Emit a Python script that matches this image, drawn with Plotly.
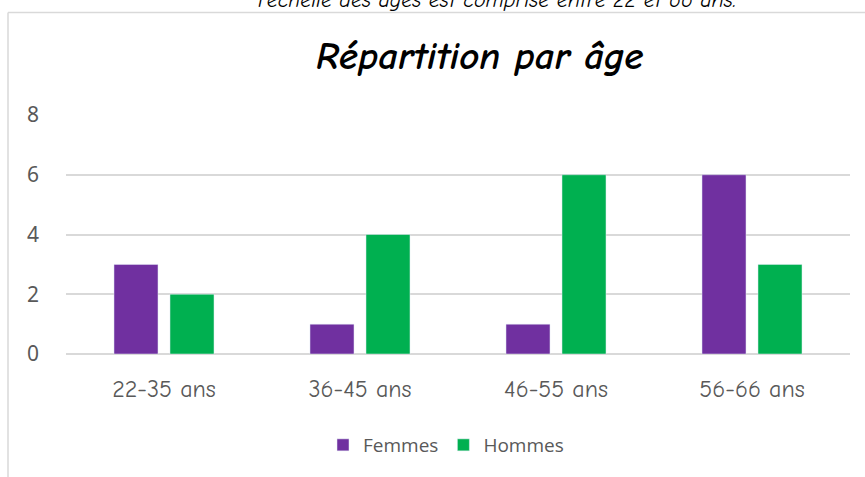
import plotly.graph_objects as go

categories = ["22-35 ans", "36-45 ans", "46-55 ans", "56-66 ans"]
femmes = [3, 1, 1, 6]
hommes = [2, 4, 6, 3]
y_ticks = [0, 2, 4, 6, 8]
title_text = "Répartition par âge"
top_text = "l'échelle des âges est comprise entre 22 et 66 ans."

W, H = 865, 477
L, R, T, B = 66, 15, 115, 123
pw, ph = W - L - R, H - T - B

def px_x(x):
    return (x - L) / pw

def px_y(y):
    return (H - B - y) / ph

fig = go.Figure()
fig.add_trace(go.Bar(name="Femmes", x=categories, y=femmes, marker_color="#7030A0"))
fig.add_trace(go.Bar(name="Hommes", x=categories, y=hommes, marker_color="#00B050"))

grey = "#595959"
comic = "Comic Sans MS, Comic Neue, DejaVu Sans, sans-serif"
fig.update_layout(
    width=W, height=H,
    margin=dict(l=L, r=R, t=T, b=B),
    paper_bgcolor="white", plot_bgcolor="white",
    barmode="group", bargap=0.4286, bargroupgap=0.214,
    font=dict(family="Noto Sans, sans-serif", color=grey),
    showlegend=True,
    legend=dict(orientation="h", x=px_x(446), xanchor="center", y=px_y(445), yanchor="middle",
                font=dict(family="Open Sans, Noto Sans, sans-serif", size=19, color=grey),
                itemwidth=30, traceorder="normal"),
    xaxis=dict(showgrid=False, showline=False, ticks="",
               tickfont=dict(family=comic, size=24, color=grey), ticklabelstandoff=18),
    yaxis=dict(range=[0, 8], tickvals=y_ticks, showgrid=True, gridcolor="#d9d9d9", gridwidth=1.5,
               zeroline=True, zerolinecolor="#d9d9d9", zerolinewidth=1.5, showline=False,
               tickfont=dict(family="Noto Sans, sans-serif", size=21, color=grey),
               ticks="", ticklabelstandoff=26),
    shapes=[
        dict(type="line", xref="paper", yref="paper", x0=px_x(8), x1=px_x(8), y0=px_y(12.5), y1=px_y(490),
             line=dict(color="#d9d9d9", width=1.5)),
        dict(type="line", xref="paper", yref="paper", x0=px_x(8), x1=px_x(880), y0=px_y(12.5), y1=px_y(12.5),
             line=dict(color="#d9d9d9", width=1.5)),
    ],
    annotations=[
        dict(text="<b><i>" + title_text + "</i></b>", xref="paper", yref="paper",
             x=px_x(480), y=px_y(57), xanchor="center", yanchor="middle", showarrow=False,
             font=dict(family=comic, size=39, color="black")),
        dict(text="<i>" + top_text + "</i>", xref="paper", yref="paper",
             x=px_x(497), y=px_y(15), xanchor="center", yanchor="bottom", showarrow=False,
             font=dict(family=comic, size=22, color="black")),
    ],
)

fig.write_html("out.html", config={"displayModeBar": False},
               post_script="document.body.style.margin='0';document.body.style.padding='0';")
